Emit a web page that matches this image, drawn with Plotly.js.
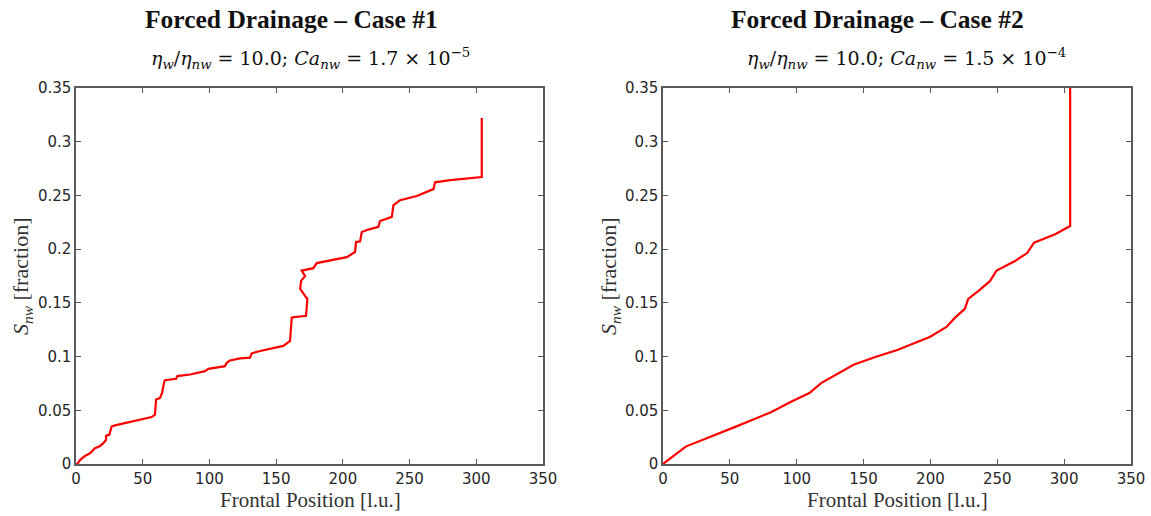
<!DOCTYPE html>
<html>
<head>
<meta charset="utf-8">
<script src="https://cdn.plot.ly/plotly-3.0.1.min.js"></script>
<style>html,body{margin:0;padding:0;background:#fff;}#chart{width:1151px;height:516px;}</style>
</head>
<body>
<div id="chart"></div>
<script>
// Case #1: frontal position [l.u.] vs S_nw [fraction]
const case1X = [0, 1, 3, 6.7, 10.5, 14.2, 18, 20.5, 22.5, 22.5, 25, 26.7, 29.2, 45.5, 56.7, 59.2, 60, 63, 64.5, 66, 66.7, 75, 76, 85.5, 96.7, 99.2, 111.7, 113, 115.4, 123, 130.4, 131.7, 138, 155.4, 157.9, 160.4, 161.7, 172.4, 173.4, 170.4, 168, 168.7, 171.7, 169.2, 177.9, 180.4, 192.9, 203, 209.1, 209.9, 212.9, 214.2, 219.1, 226.6, 227.9, 236.7, 237.9, 242.9, 255.4, 267.9, 269.1, 280.4, 304.1, 304.1];
const case1Y = [0, 0, 0.0037, 0.0075, 0.010, 0.0147, 0.0168, 0.0194, 0.0225, 0.0262, 0.0274, 0.0349, 0.0359, 0.0403, 0.0437, 0.0459, 0.060, 0.0615, 0.0662, 0.0761, 0.078, 0.0793, 0.0818, 0.0833, 0.0864, 0.0886, 0.0911, 0.0942, 0.0964, 0.0983, 0.099, 0.103, 0.1052, 0.1099, 0.1124, 0.1145, 0.1364, 0.1379, 0.1536, 0.1582, 0.1629, 0.1707, 0.1748, 0.180, 0.1823, 0.187, 0.190, 0.1926, 0.1973, 0.2066, 0.2072, 0.216, 0.2182, 0.2207, 0.2262, 0.230, 0.2409, 0.2456, 0.2494, 0.2559, 0.2622, 0.2643, 0.2671, 0.322];
// Case #2
const case2X = [0, 17, 54.5, 80.75, 95.75, 109.5, 118.25, 130.75, 142.5, 158.25, 175.75, 188.25, 199.5, 212, 218.25, 225.75, 228.25, 235.75, 244.5, 249.5, 263.25, 272.5, 277.5, 293.25, 304.5, 304.5];
const case2Y = [0, 0.0162, 0.0348, 0.0482, 0.058, 0.066, 0.0753, 0.0837, 0.0924, 0.0993, 0.1064, 0.1126, 0.1182, 0.1276, 0.136, 0.1444, 0.1537, 0.1609, 0.1702, 0.1801, 0.1889, 0.1966, 0.206, 0.2138, 0.2215, 0.36];

const xTicks = [0, 50, 100, 150, 200, 250, 300, 350];
const yTicks = [0, 0.05, 0.1, 0.15, 0.2, 0.25, 0.3, 0.35];
const yTickText = ["0", "0.05", "0.1", "0.15", "0.2", "0.25", "0.3", "0.35"];

const titles = ["Forced Drainage – Case #1", "Forced Drainage – Case #2"];
const subtitles = [
  "<i>η</i><sub><i>w</i></sub>/<i>η</i><sub><i>nw</i></sub> = 10.0; <i>Ca</i><sub><i>nw</i></sub> = 1.7 × 10<sup>−5</sup>",
  "<i>η</i><sub><i>w</i></sub>/<i>η</i><sub><i>nw</i></sub> = 10.0; <i>Ca</i><sub><i>nw</i></sub> = 1.5 × 10<sup>−4</sup>"
];
const xTitle = "Frontal Position [l.u.]";
const yTitle = "<i>S</i><sub><i>nw</i></sub> [fraction]";

const W = 1151, H = 516;
const px = v => v / W, py = v => 1 - v / H;

const lineStyle = {color: "#ff0000", width: 2.2};
const traces = [
  {x: case1X, y: case1Y, type: "scatter", mode: "lines", line: lineStyle, xaxis: "x", yaxis: "y", hoverinfo: "x+y"},
  {x: case2X, y: case2Y, type: "scatter", mode: "lines", line: lineStyle, xaxis: "x2", yaxis: "y2", hoverinfo: "x+y"}
];

const tickFont = {family: "DejaVu Sans", size: 15, color: "#262626"};
function xa(dom) {
  return {domain: dom, range: [0, 350], tickvals: xTicks, ticktext: xTicks.map(String),
    ticks: "inside", ticklen: 5, tickwidth: 1.2, tickcolor: "#555",
    showline: true, linecolor: "#5a5a5a", linewidth: 1.6, mirror: "ticks",
    showgrid: false, zeroline: false, tickfont: tickFont, fixedrange: true};
}
function ya(dom, anchor) {
  return {domain: dom, range: [0, 0.35], tickvals: yTicks, ticktext: yTickText, anchor: anchor,
    ticks: "inside", ticklen: 5, tickwidth: 1.2, tickcolor: "#555",
    showline: true, linecolor: "#5a5a5a", linewidth: 1.6, mirror: "ticks",
    showgrid: false, zeroline: false, tickfont: tickFont, fixedrange: true};
}
const yDom = [py(464), py(88)];
const layout = {
  width: W, height: H,
  margin: {l: 0, r: 0, t: 0, b: 0},
  paper_bgcolor: "#fff", plot_bgcolor: "#fff",
  showlegend: false,
  xaxis: Object.assign(xa([px(76), px(543)]), {anchor: "y"}),
  yaxis: ya(yDom, "x"),
  xaxis2: Object.assign(xa([px(663), px(1131)]), {anchor: "y2"}),
  yaxis2: ya(yDom, "x2"),
  annotations: []
};
const centers = [[291, 310, 310, 22], [877, 906, 897, 610]];
centers.forEach((c, i) => {
  layout.annotations.push({text: "<b>" + titles[i] + "</b>", xref: "paper", yref: "paper", x: px(c[0]), y: py(20),
    xanchor: "center", yanchor: "middle", showarrow: false, font: {family: "Liberation Serif", size: 25.5, color: "#111"}});
  layout.annotations.push({text: subtitles[i], xref: "paper", yref: "paper", x: px(c[1]), y: py(59),
    xanchor: "center", yanchor: "middle", showarrow: false, font: {family: "DejaVu Serif", size: 19, color: "#111"}});
  layout.annotations.push({text: xTitle, xref: "paper", yref: "paper", x: px(c[2]), y: py(500),
    xanchor: "center", yanchor: "middle", showarrow: false, font: {family: "Liberation Serif", size: 21, color: "#333"}});
  layout.annotations.push({text: yTitle, xref: "paper", yref: "paper", x: px(c[3]), y: py(276), textangle: -90,
    xanchor: "center", yanchor: "middle", showarrow: false, font: {family: "Liberation Serif", size: 22, color: "#333"}});
});
Plotly.newPlot("chart", traces, layout, {displayModeBar: false, staticPlot: true});
</script>
</body>
</html>
